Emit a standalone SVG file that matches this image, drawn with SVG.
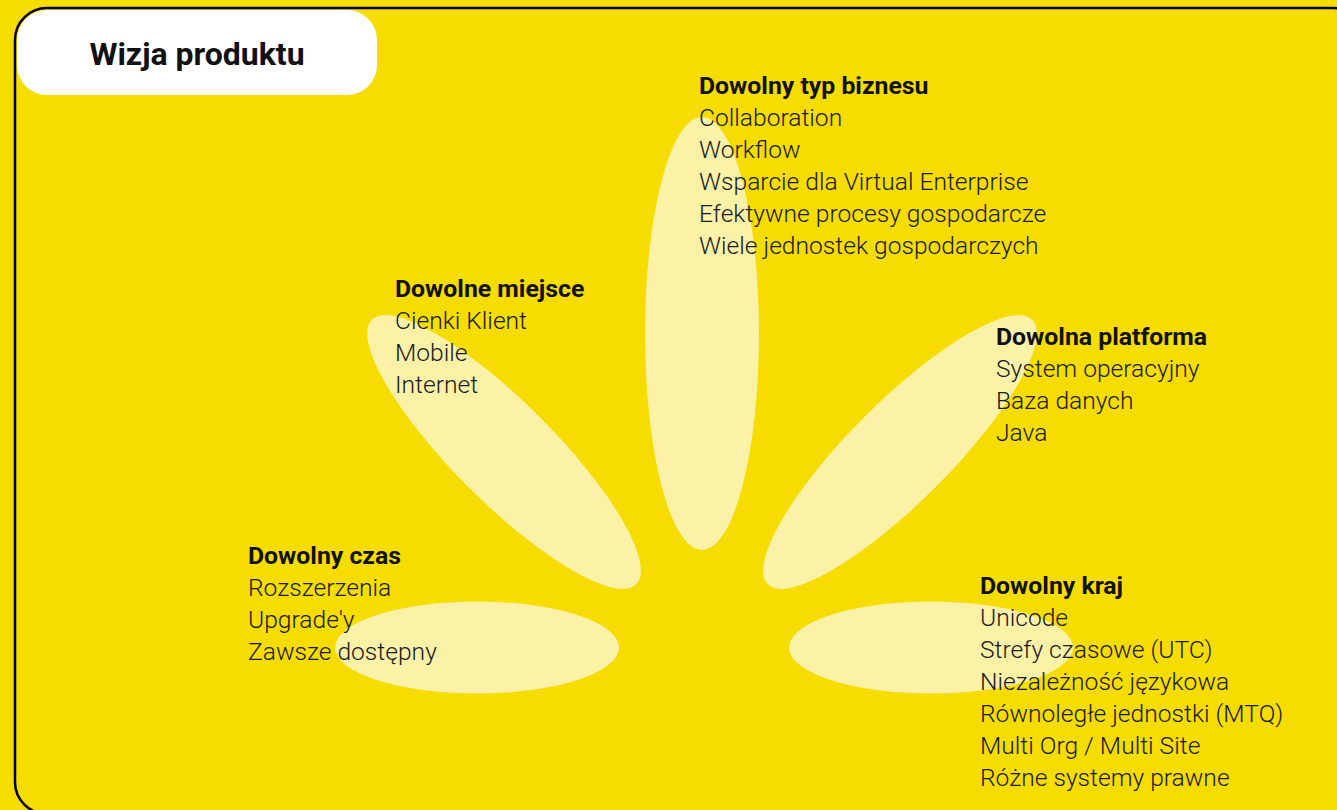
<svg xmlns="http://www.w3.org/2000/svg" width="1337" height="810" viewBox="0 0 1337 810">
<style>
.petal{fill:#FBF2A8}
.h{font-family:Roboto,"Liberation Sans",sans-serif;font-weight:700;font-size:24.8px;fill:#111}
.t{font-family:Roboto,"Liberation Sans",sans-serif;font-weight:300;font-size:24.6px;fill:#1a1a1a}
.title{font-family:Roboto,"Liberation Sans",sans-serif;font-weight:700;font-size:32px;fill:#111}
</style>
<rect x="0" y="0" width="1337" height="810" fill="#F7DC00"/>
<rect x="15" y="8" width="1350" height="806" rx="32" fill="none" stroke="#000" stroke-width="2.5"/>
<g id="petals">
<ellipse class="petal" cx="702" cy="333.5" rx="57" ry="216.5"/>
<ellipse class="petal" cx="504" cy="452" rx="187" ry="50" transform="rotate(45 504 452)"/>
<ellipse class="petal" cx="900" cy="452" rx="187" ry="50" transform="rotate(-45 900 452)"/>
<ellipse class="petal" cx="477" cy="647.5" rx="142" ry="46"/>
<ellipse class="petal" cx="931" cy="647.5" rx="142" ry="46"/>
</g>
<g id="title">
<rect x="17" y="10" width="360" height="85" rx="30" fill="#fff"/>
<text class="title" x="197" y="65" text-anchor="middle">Wizja produktu</text>
</g>
<g id="biznes">
<text class="h" x="699" y="94">Dowolny typ biznesu</text>
<text class="t" x="699" y="126">Collaboration</text>
<text class="t" x="699" y="158">Workflow</text>
<text class="t" x="699" y="190">Wsparcie dla Virtual Enterprise</text>
<text class="t" x="699" y="222">Efektywne procesy gospodarcze</text>
<text class="t" x="699" y="254">Wiele jednostek gospodarczych</text>
</g>
<g id="miejsce">
<text class="h" x="395" y="297">Dowolne miejsce</text>
<text class="t" x="395" y="329">Cienki Klient</text>
<text class="t" x="395" y="361">Mobile</text>
<text class="t" x="395" y="393">Internet</text>
</g>
<g id="platforma">
<text class="h" x="996" y="345">Dowolna platforma</text>
<text class="t" x="996" y="377">System operacyjny</text>
<text class="t" x="996" y="409">Baza danych</text>
<text class="t" x="996" y="441">Java</text>
</g>
<g id="czas">
<text class="h" x="248" y="564">Dowolny czas</text>
<text class="t" x="248" y="596">Rozszerzenia</text>
<text class="t" x="248" y="628">Upgrade'y</text>
<text class="t" x="248" y="660">Zawsze dostępny</text>
</g>
<g id="kraj">
<text class="h" x="980" y="594">Dowolny kraj</text>
<text class="t" x="980" y="626">Unicode</text>
<text class="t" x="980" y="658">Strefy czasowe (UTC)</text>
<text class="t" x="980" y="690">Niezależność językowa</text>
<text class="t" x="980" y="722">Równoległe jednostki (MTQ)</text>
<text class="t" x="980" y="754">Multi Org / Multi Site</text>
<text class="t" x="980" y="786">Różne systemy prawne</text>
</g>
<g id="connectors"/>
</svg>
